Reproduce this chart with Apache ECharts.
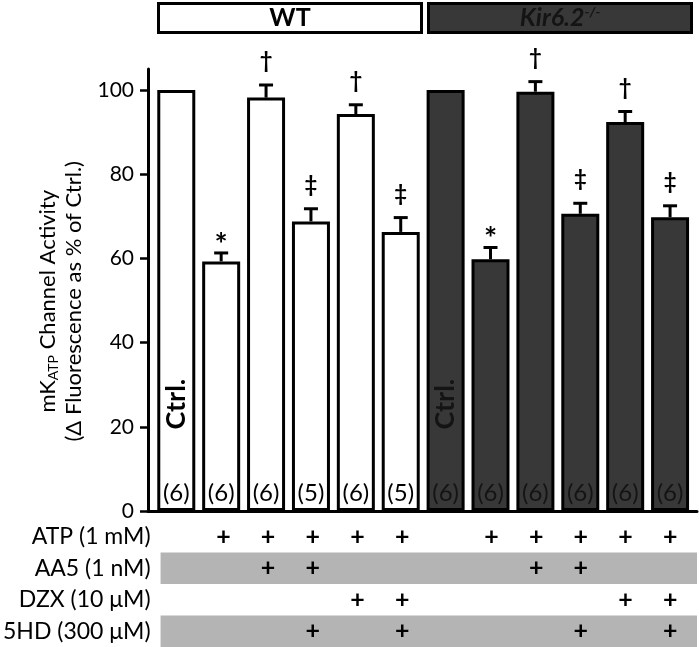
<!DOCTYPE html>
<html>
<head>
<meta charset="utf-8">
<script src="https://cdn.jsdelivr.net/npm/echarts@6/dist/echarts.min.js"></script>
<style>html,body{margin:0;padding:0;background:#fff;}#c{width:699px;height:647px;}</style>
</head>
<body>
<div id="c"></div>
<script>
// ---- data ----
const groups = ['WT', 'Kir6.2-/-'];
const groupOf = [0,0,0,0,0,0,1,1,1,1,1,1];
const means = [100, 59.3, 98.2, 68.8, 94.3, 66.3, 100, 59.8, 99.6, 70.6, 92.4, 69.8];
const sems  = [0, 2.0, 3.0, 3.0, 2.2, 3.4, 0, 2.8, 2.4, 2.5, 2.5, 2.7];
const nVals = [6, 6, 6, 5, 6, 5, 6, 6, 6, 6, 6, 6];
const sig   = ['', '*', '†', '‡', '†', '‡', '', '*', '†', '‡', '†', '‡'];
const ctrlText = ['Ctrl.', '', '', '', '', '', 'Ctrl.', '', '', '', '', ''];
const treatments = ['ATP (1 mM)', 'AA5 (1 nM)', 'DZX (10 μM)', '5HD (300 μM)'];
const ATP = [0,1,1,1,1,1,0,1,1,1,1,1];
const AA5 = [0,0,1,1,0,0,0,0,1,1,0,0];
const DZX = [0,0,0,0,1,1,0,0,0,0,1,1];
const HD5 = [0,0,0,1,0,1,0,0,0,1,0,1];
const yTicks = [0, 20, 40, 60, 80, 100];

// ---- styling ----
const FONT = 'Lato';
const groupFill = ['#ffffff', '#383838'];
const groupText = ['#000000', '#141414'];

const treatRows = [ATP, AA5, DZX, HD5];
const plusData = [];
treatRows.forEach((row, r) => row.forEach((v, i) => { if (v) plusData.push([i, r]); }));

const chart = echarts.init(document.getElementById('c'), null, {renderer: 'canvas'});
chart.setOption({
  animation: false,
  backgroundColor: '#fff',
  textStyle: {fontFamily: FONT},
  grid: [
    {left: 148, right: 2, top: 69, bottom: 136},
    {left: 158, right: 2, top: 521, height: 128},
    {left: 155, right: 4, top: 2, height: 32}
  ],
  xAxis: [
    {gridIndex: 0, type: 'value', min: -0.63, max: 11.6,
     axisLine: {show: true, onZero: false, lineStyle: {color: '#000', width: 3}},
     axisTick: {show: false}, axisLabel: {show: false}, splitLine: {show: false}},
    {gridIndex: 1, type: 'value', min: -0.4072, max: 11.6,
     axisLine: {show: false}, axisTick: {show: false}, axisLabel: {show: false}, splitLine: {show: false}},
    {gridIndex: 2, type: 'category', data: groups,
     axisLine: {show: false}, axisTick: {show: false}, axisLabel: {show: false}}
  ],
  yAxis: [
    {gridIndex: 0, type: 'value', min: 0, max: 105,
     axisLine: {show: true, onZero: false, lineStyle: {color: '#000', width: 3}},
     axisTick: {show: true, length: 8, customValues: yTicks, lineStyle: {color: '#000', width: 2.5}},
     axisLabel: {customValues: yTicks, fontSize: 21, color: '#000', margin: 14, fontFamily: FONT},
     splitLine: {show: false},
     name: 'mK{sub|ATP} Channel Activity    \n(Δ Fluorescence as % of Ctrl.)    ',
     nameLocation: 'middle', nameRotate: 90, nameGap: 53,
     nameTextStyle: {fontSize: 22, color: '#000', lineHeight: 26, fontFamily: FONT,
       rich: {sub: {fontSize: 14, verticalAlign: 'bottom', color: '#000', fontFamily: FONT}}}},
    {gridIndex: 1, type: 'category', data: treatments, inverse: true,
     axisLine: {show: false}, axisTick: {show: false},
     axisLabel: {fontSize: 23, color: '#000', margin: 10, fontFamily: FONT},
     splitArea: {show: true, areaStyle: {color: ['#ffffff', '#b4b4b4']}}},
    {gridIndex: 2, type: 'value', min: 0, max: 1, show: false}
  ],
  series: [
    {
      type: 'bar', xAxisIndex: 0, yAxisIndex: 0, barWidth: 38,
      data: means.map((m, i) => ({
        value: [i, m],
        itemStyle: {color: groupFill[groupOf[i]], borderColor: '#000', borderWidth: 3},
        label: {color: groupText[groupOf[i]]}
      })),
      label: {show: true, position: 'insideBottom', distance: 6, fontSize: 24, fontFamily: FONT,
        formatter: p => '(' + nVals[p.dataIndex] + ')'}
    },
    {
      type: 'custom', xAxisIndex: 0, yAxisIndex: 0, z: 5, clip: false,
      data: means.map((m, i) => [i, m, sems[i]]),
      renderItem: function (params, api) {
        const i = api.value(0), m = api.value(1), e = api.value(2);
        const k = params.dataIndex;
        const children = [];
        const top = api.coord([i, m]);
        const cap = api.coord([i, m + e]);
        if (e > 0) {
          children.push({type: 'line', shape: {x1: top[0], y1: top[1], x2: cap[0], y2: cap[1]},
            style: {stroke: '#000', lineWidth: 3}});
          children.push({type: 'line', shape: {x1: cap[0] - 7, y1: cap[1], x2: cap[0] + 7, y2: cap[1]},
            style: {stroke: '#000', lineWidth: 3}});
        }
        if (sig[k]) {
          const star = sig[k] === '*';
          children.push({type: 'text', x: cap[0], y: cap[1] - (star ? 8 : 24),
            style: {text: sig[k], fontSize: star ? 31 : 22, fontFamily: FONT, fontWeight: 'bold',
              fill: '#000', align: 'center', verticalAlign: 'middle'}});
        }
        if (ctrlText[k]) {
          const p = api.coord([i, 25.4]);
          children.push({type: 'text', x: p[0], y: p[1], rotation: Math.PI / 2,
            style: {text: ctrlText[k], fontSize: 27, fontWeight: 'bold', fontFamily: FONT,
              fill: groupText[groupOf[k]], align: 'center', verticalAlign: 'middle'}});
        }
        return {type: 'group', children: children};
      }
    },
    {
      type: 'custom', xAxisIndex: 1, yAxisIndex: 1, z: 5,
      data: plusData,
      renderItem: function (params, api) {
        const p = api.coord([api.value(0), api.value(1)]);
        return {type: 'text', x: p[0], y: p[1],
          style: {text: '+', fontSize: 25, fontWeight: 'bold', fontFamily: FONT, fill: '#000', align: 'center', verticalAlign: 'middle'}};
      }
    },
    {
      type: 'bar', xAxisIndex: 2, yAxisIndex: 2, barWidth: 266,
      data: groups.map((g, i) => ({
        value: 1,
        itemStyle: {color: groupFill[i], borderColor: '#000', borderWidth: 3}
      })),
      label: {show: true, position: 'inside', fontFamily: FONT,
        formatter: p => p.dataIndex === 0 ? '{wt|WT}' : '{ko|Kir6.2}{sup|-/-}',
        rich: {
          wt: {fontSize: 25, fontWeight: 'bold', color: '#000', fontFamily: FONT},
          ko: {fontSize: 25, fontWeight: 'bold', fontStyle: 'italic', color: '#141414', fontFamily: FONT},
          sup: {fontSize: 14, fontWeight: 'bold', fontStyle: 'italic', color: '#141414', verticalAlign: 'top', fontFamily: FONT}
        }}
    }
  ]
});
</script>
</body>
</html>
